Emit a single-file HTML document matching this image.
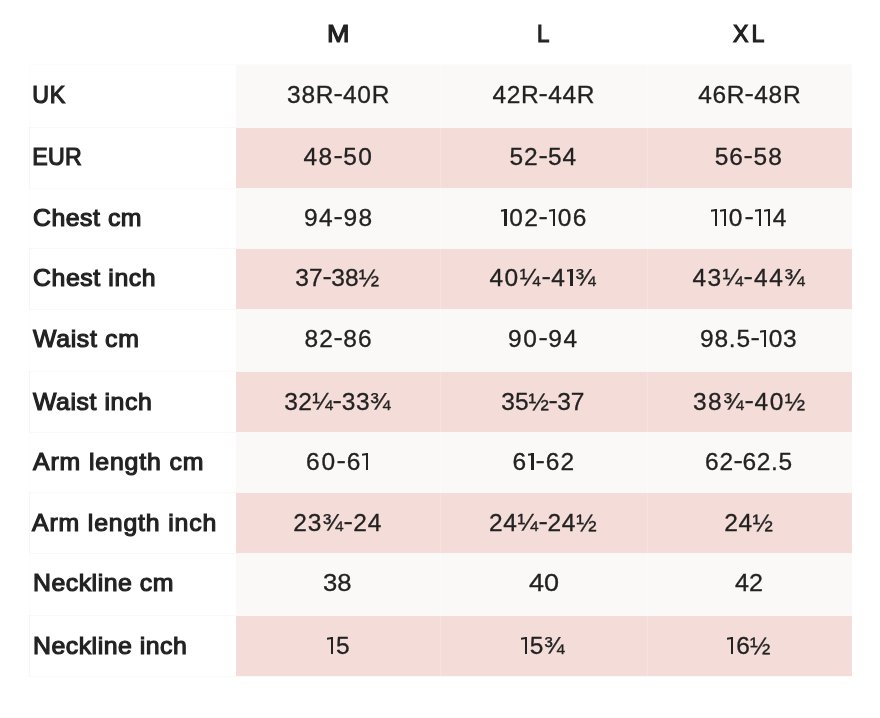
<!DOCTYPE html>
<html><head><meta charset="utf-8"><style>
html,body{margin:0;padding:0;background:#fff;width:880px;height:718px;overflow:hidden;}
body{position:relative;font-family:"Liberation Sans",sans-serif;color:#222;}
.a{position:absolute;}
.t{position:absolute;white-space:nowrap;font-size:24.5px;line-height:30px;height:30px;-webkit-text-stroke:0.3px #222;}
.b{font-weight:normal;font-size:23.2px;-webkit-text-stroke:1.1px #222;}
#tx{position:absolute;left:0;top:0;width:880px;height:718px;will-change:transform;}
.hy{display:inline-block;transform:translateY(-1.8px) scaleX(1.15);transform-origin:4.1px 50%;}
.o{display:inline-block;position:relative;width:9px;height:16.9px;vertical-align:baseline;letter-spacing:0;}
.o i{position:absolute;left:3.9px;top:0;width:2.4px;height:16.9px;background:#222;}
.o s{position:absolute;left:0.3px;top:0.1px;width:4.5px;height:2px;background:#222;transform:skewY(-10deg);transform-origin:100% 0;}
</style></head><body>

<div class="a" style="left:29px;top:64px;width:823px;height:1px;background:#fcfbfb"></div>
<div class="a" style="left:29px;top:64px;width:1px;height:64px;background:#fdfcfc"></div>
<div class="a" style="left:29px;top:127px;width:823px;height:1px;background:#faf7f6"></div>
<div class="a" style="left:236px;top:65px;width:205px;height:62px;background:#faf9f8"></div>
<div class="a" style="left:441px;top:65px;width:206px;height:62px;background:#faf9f8"></div>
<div class="a" style="left:647px;top:65px;width:205px;height:62px;background:#faf9f8"></div>
<div class="a" style="left:440px;top:65px;width:1px;height:62px;background:#fcfbfb"></div>
<div class="a" style="left:647px;top:65px;width:1px;height:62px;background:#fcfbfb"></div>
<div class="a" style="left:29px;top:127px;width:1px;height:62px;background:#faf5f4"></div>
<div class="a" style="left:29px;top:188px;width:823px;height:1px;background:#faf7f6"></div>
<div class="a" style="left:236px;top:128px;width:205px;height:60px;background:#f4ddd8"></div>
<div class="a" style="left:441px;top:128px;width:206px;height:60px;background:#f4ddd8"></div>
<div class="a" style="left:647px;top:128px;width:205px;height:60px;background:#f4ddd8"></div>
<div class="a" style="left:440px;top:128px;width:1px;height:60px;background:#f6e3df"></div>
<div class="a" style="left:647px;top:128px;width:1px;height:60px;background:#f6e3df"></div>
<div class="a" style="left:29px;top:188px;width:1px;height:61px;background:#fdfcfc"></div>
<div class="a" style="left:29px;top:248px;width:823px;height:1px;background:#faf7f6"></div>
<div class="a" style="left:236px;top:189px;width:205px;height:59px;background:#faf9f8"></div>
<div class="a" style="left:441px;top:189px;width:206px;height:59px;background:#faf9f8"></div>
<div class="a" style="left:647px;top:189px;width:205px;height:59px;background:#faf9f8"></div>
<div class="a" style="left:440px;top:189px;width:1px;height:59px;background:#fcfbfb"></div>
<div class="a" style="left:647px;top:189px;width:1px;height:59px;background:#fcfbfb"></div>
<div class="a" style="left:29px;top:248px;width:1px;height:62px;background:#faf5f4"></div>
<div class="a" style="left:29px;top:309px;width:823px;height:1px;background:#faf7f6"></div>
<div class="a" style="left:236px;top:249px;width:205px;height:60px;background:#f4ddd8"></div>
<div class="a" style="left:441px;top:249px;width:206px;height:60px;background:#f4ddd8"></div>
<div class="a" style="left:647px;top:249px;width:205px;height:60px;background:#f4ddd8"></div>
<div class="a" style="left:440px;top:249px;width:1px;height:60px;background:#f6e3df"></div>
<div class="a" style="left:647px;top:249px;width:1px;height:60px;background:#f6e3df"></div>
<div class="a" style="left:29px;top:309px;width:1px;height:63px;background:#fdfcfc"></div>
<div class="a" style="left:29px;top:371px;width:823px;height:1px;background:#faf7f6"></div>
<div class="a" style="left:236px;top:310px;width:205px;height:61px;background:#faf9f8"></div>
<div class="a" style="left:441px;top:310px;width:206px;height:61px;background:#faf9f8"></div>
<div class="a" style="left:647px;top:310px;width:205px;height:61px;background:#faf9f8"></div>
<div class="a" style="left:440px;top:310px;width:1px;height:61px;background:#fcfbfb"></div>
<div class="a" style="left:647px;top:310px;width:1px;height:61px;background:#fcfbfb"></div>
<div class="a" style="left:29px;top:371px;width:1px;height:62px;background:#faf5f4"></div>
<div class="a" style="left:29px;top:432px;width:823px;height:1px;background:#faf7f6"></div>
<div class="a" style="left:236px;top:372px;width:205px;height:60px;background:#f4ddd8"></div>
<div class="a" style="left:441px;top:372px;width:206px;height:60px;background:#f4ddd8"></div>
<div class="a" style="left:647px;top:372px;width:205px;height:60px;background:#f4ddd8"></div>
<div class="a" style="left:440px;top:372px;width:1px;height:60px;background:#f6e3df"></div>
<div class="a" style="left:647px;top:372px;width:1px;height:60px;background:#f6e3df"></div>
<div class="a" style="left:29px;top:432px;width:1px;height:61px;background:#fdfcfc"></div>
<div class="a" style="left:29px;top:492px;width:823px;height:1px;background:#faf7f6"></div>
<div class="a" style="left:236px;top:433px;width:205px;height:59px;background:#faf9f8"></div>
<div class="a" style="left:441px;top:433px;width:206px;height:59px;background:#faf9f8"></div>
<div class="a" style="left:647px;top:433px;width:205px;height:59px;background:#faf9f8"></div>
<div class="a" style="left:440px;top:433px;width:1px;height:59px;background:#fcfbfb"></div>
<div class="a" style="left:647px;top:433px;width:1px;height:59px;background:#fcfbfb"></div>
<div class="a" style="left:29px;top:492px;width:1px;height:62px;background:#faf5f4"></div>
<div class="a" style="left:29px;top:553px;width:823px;height:1px;background:#faf7f6"></div>
<div class="a" style="left:236px;top:493px;width:205px;height:60px;background:#f4ddd8"></div>
<div class="a" style="left:441px;top:493px;width:206px;height:60px;background:#f4ddd8"></div>
<div class="a" style="left:647px;top:493px;width:205px;height:60px;background:#f4ddd8"></div>
<div class="a" style="left:440px;top:493px;width:1px;height:60px;background:#f6e3df"></div>
<div class="a" style="left:647px;top:493px;width:1px;height:60px;background:#f6e3df"></div>
<div class="a" style="left:29px;top:553px;width:1px;height:63px;background:#fdfcfc"></div>
<div class="a" style="left:29px;top:615px;width:823px;height:1px;background:#faf7f6"></div>
<div class="a" style="left:236px;top:554px;width:205px;height:61px;background:#faf9f8"></div>
<div class="a" style="left:441px;top:554px;width:206px;height:61px;background:#faf9f8"></div>
<div class="a" style="left:647px;top:554px;width:205px;height:61px;background:#faf9f8"></div>
<div class="a" style="left:440px;top:554px;width:1px;height:61px;background:#fcfbfb"></div>
<div class="a" style="left:647px;top:554px;width:1px;height:61px;background:#fcfbfb"></div>
<div class="a" style="left:29px;top:615px;width:1px;height:62px;background:#faf5f4"></div>
<div class="a" style="left:29px;top:676px;width:823px;height:1px;background:#faf7f6"></div>
<div class="a" style="left:236px;top:616px;width:205px;height:60px;background:#f4ddd8"></div>
<div class="a" style="left:441px;top:616px;width:206px;height:60px;background:#f4ddd8"></div>
<div class="a" style="left:647px;top:616px;width:205px;height:60px;background:#f4ddd8"></div>
<div class="a" style="left:440px;top:616px;width:1px;height:60px;background:#f6e3df"></div>
<div class="a" style="left:647px;top:616px;width:1px;height:60px;background:#f6e3df"></div>
<div id="tx">
<div id="h0" class="t b" style="left:326.65px;top:19.00px;letter-spacing:0.000px;transform:scaleX(1.165);transform-origin:0 0">M</div>
<div id="h1" class="t b" style="left:536.95px;top:19.00px;letter-spacing:0.000px;transform:scaleX(0.961);transform-origin:0 0">L</div>
<div id="h2" class="t b" style="left:733.05px;top:19.00px;letter-spacing:2.916px">XL</div>
<div id="l0" class="t b" style="left:32.32px;top:80.00px;letter-spacing:0.640px">UK</div>
<div id="v0_0" class="t" style="left:287.06px;top:80.00px;letter-spacing:0.708px">38R<span class="hy">-</span>40R</div>
<div id="v0_1" class="t" style="left:492.40px;top:80.00px;letter-spacing:0.679px">42R<span class="hy">-</span>44R</div>
<div id="v0_2" class="t" style="left:698.14px;top:80.00px;letter-spacing:0.735px">46R<span class="hy">-</span>48R</div>
<div id="l1" class="t b" style="left:32.27px;top:142.00px;letter-spacing:0.231px">EUR</div>
<div id="v1_0" class="t" style="left:303.48px;top:142.00px;letter-spacing:1.459px">48<span class="hy">-</span>50</div>
<div id="v1_1" class="t" style="left:509.47px;top:142.00px;letter-spacing:1.027px">52<span class="hy">-</span>54</div>
<div id="v1_2" class="t" style="left:714.64px;top:142.00px;letter-spacing:1.119px">56<span class="hy">-</span>58</div>
<div id="l2" class="t b" style="left:32.74px;top:203.00px;letter-spacing:0.494px;transform:scaleX(1.070);transform-origin:0 0">Chest cm</div>
<div id="v2_0" class="t" style="left:304.03px;top:203.00px;letter-spacing:1.338px">94<span class="hy">-</span>98</div>
<div id="v2_1" class="t" style="left:500.29px;top:203.00px;letter-spacing:1.337px"><span class="o"><i></i><s></s></span>02<span class="hy">-</span><span class="o"><i></i><s></s></span>06</div>
<div id="v2_2" class="t" style="left:710.74px;top:203.00px;letter-spacing:2.136px"><span class="o"><i></i><s></s></span><span class="o"><i></i><s></s></span>0<span class="hy">-</span><span class="o"><i></i><s></s></span><span class="o"><i></i><s></s></span>4</div>
<div id="l3" class="t b" style="left:32.74px;top:263.00px;letter-spacing:0.555px;transform:scaleX(1.070);transform-origin:0 0">Chest inch</div>
<div id="v3_0" class="t" style="left:295.33px;top:263.00px;letter-spacing:0.144px">37<span class="hy">-</span>38½</div>
<div id="v3_1" class="t" style="left:489.48px;top:263.00px;letter-spacing:1.475px">40¼<span class="hy">-</span>4<span class="o"><i></i><s></s></span>¾</div>
<div id="v3_2" class="t" style="left:692.42px;top:263.00px;letter-spacing:1.450px">43¼<span class="hy">-</span>44¾</div>
<div id="l4" class="t b" style="left:32.56px;top:324.00px;letter-spacing:0.636px;transform:scaleX(1.070);transform-origin:0 0">Waist cm</div>
<div id="v4_0" class="t" style="left:304.53px;top:324.00px;letter-spacing:1.080px">82<span class="hy">-</span>86</div>
<div id="v4_1" class="t" style="left:508.12px;top:324.00px;letter-spacing:1.567px">90<span class="hy">-</span>94</div>
<div id="v4_2" class="t" style="left:700.12px;top:324.00px;letter-spacing:0.742px">98.5<span class="hy">-</span><span class="o"><i></i><s></s></span>03</div>
<div id="l5" class="t b" style="left:32.56px;top:387.00px;letter-spacing:0.545px;transform:scaleX(1.070);transform-origin:0 0">Waist inch</div>
<div id="v5_0" class="t" style="left:284.15px;top:387.00px;letter-spacing:0.460px">32¼<span class="hy">-</span>33¾</div>
<div id="v5_1" class="t" style="left:501.32px;top:387.00px;letter-spacing:0.009px">35½<span class="hy">-</span>37</div>
<div id="v5_2" class="t" style="left:693.03px;top:387.00px;letter-spacing:1.435px">38¾<span class="hy">-</span>40½</div>
<div id="l6" class="t b" style="left:32.51px;top:447.00px;letter-spacing:0.819px;transform:scaleX(1.070);transform-origin:0 0">Arm length cm</div>
<div id="v6_0" class="t" style="left:306.09px;top:447.00px;letter-spacing:1.723px">60<span class="hy">-</span>6<span class="o"><i></i><s></s></span></div>
<div id="v6_1" class="t" style="left:512.52px;top:447.00px;letter-spacing:1.182px">6<span class="o"><i></i><s></s></span><span class="hy">-</span>62</div>
<div id="v6_2" class="t" style="left:705.11px;top:447.00px;letter-spacing:0.659px">62<span class="hy">-</span>62.5</div>
<div id="l7" class="t b" style="left:32.19px;top:508.00px;letter-spacing:0.797px;transform:scaleX(1.070);transform-origin:0 0">Arm length inch</div>
<div id="v7_0" class="t" style="left:293.21px;top:508.00px;letter-spacing:1.035px">23¾<span class="hy">-</span>24</div>
<div id="v7_1" class="t" style="left:488.89px;top:508.00px;letter-spacing:0.702px">24¼<span class="hy">-</span>24½</div>
<div id="v7_2" class="t" style="left:724.21px;top:508.00px;letter-spacing:0.548px">24½</div>
<div id="l8" class="t b" style="left:32.71px;top:568.00px;letter-spacing:0.487px;transform:scaleX(1.070);transform-origin:0 0">Neckline cm</div>
<div id="v8_0" class="t" style="left:323.24px;top:568.00px;letter-spacing:0.000px;transform:scaleX(1.047);transform-origin:0 0">38</div>
<div id="v8_1" class="t" style="left:528.71px;top:568.00px;letter-spacing:0.000px;transform:scaleX(1.103);transform-origin:0 0">40</div>
<div id="v8_2" class="t" style="left:735.49px;top:568.00px;letter-spacing:0.000px;transform:scaleX(1.026);transform-origin:0 0">42</div>
<div id="l9" class="t b" style="left:32.71px;top:631.00px;letter-spacing:0.490px;transform:scaleX(1.070);transform-origin:0 0">Neckline inch</div>
<div id="v9_0" class="t" style="left:327.01px;top:631.00px;letter-spacing:-4.411px"><span class="o"><i></i><s></s></span>5</div>
<div id="v9_1" class="t" style="left:520.83px;top:631.00px;letter-spacing:0.669px"><span class="o"><i></i><s></s></span>5¾</div>
<div id="v9_2" class="t" style="left:727.17px;top:631.00px;letter-spacing:0.095px"><span class="o"><i></i><s></s></span>6½</div>
</div>
</body></html>
